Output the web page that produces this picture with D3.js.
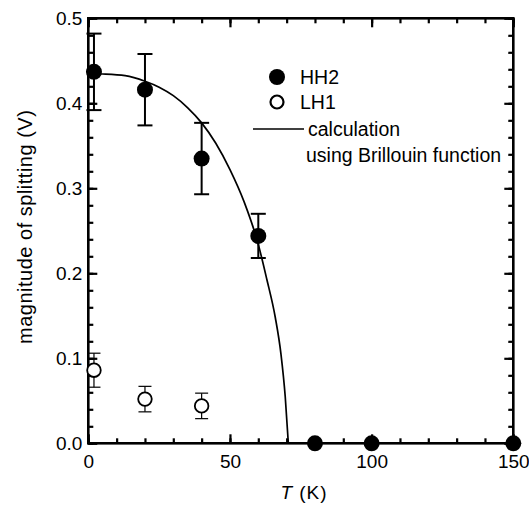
<!DOCTYPE html>
<html>
<head>
<meta charset="utf-8">
<script src="https://cdn.jsdelivr.net/npm/d3@7"></script>
<style>
  html, body { margin: 0; padding: 0; background: #fff; }
  text { font-family: "Liberation Sans", Arial, sans-serif; fill: #000; }
</style>
</head>
<body>
<div id="svg-container"></div>
<script>
// data
const hh2T = [2, 20, 40, 60, 80, 100, 150];
const hh2V = [0.437, 0.416, 0.335, 0.244, 0, 0, 0];
const hh2Err = [0.045, 0.042, 0.042, 0.026, 0, 0, 0];

const lh1T = [2, 20, 40];
const lh1V = [0.086, 0.052, 0.044];
const lh1Err = [0.020, 0.015, 0.015];

// calculation (Brillouin function), sampled from the drawn curve
const calcT = [0, 5, 13, 20, 25, 30, 35, 40, 45, 50, 55, 60, 63, 66, 68, 69.5, 70.6];
const calcV = [0.435, 0.4345, 0.4325, 0.426, 0.419, 0.409, 0.395, 0.377, 0.353, 0.322, 0.284, 0.234, 0.193, 0.148, 0.105, 0.055, 0];

const xTicks = [0, 50, 100, 150];
const yTicks = [0, 0.1, 0.2, 0.3, 0.4, 0.5];

// dimensions
const dim = {
    width: 529,
    height: 506,
    margin: { top: 18.3, right: 15.7, bottom: 62.7, left: 88.3 }
}
const w = dim.width - dim.margin.left - dim.margin.right;
const h = dim.height - dim.margin.top - dim.margin.bottom;

const svg = d3.select('#svg-container')
    .append('svg')
    .attr('width', dim.width)
    .attr('height', dim.height)
    .append('g')
        .attr('transform', `translate(${dim.margin.left}, ${dim.margin.top})`)

// scales
const xScale = d3.scaleLinear().domain([0, 150]).range([0, w]);
const yScale = d3.scaleLinear().domain([0, 0.5]).range([h, 0]);

const minorX = d3.range(0, 151, 10);
const minorY = d3.range(0, 0.5001, 0.02);

// axes, ticks pointing inward on all four sides
function styleAxis(g) {
    g.select('.domain').remove();
    g.selectAll('.tick line').attr('stroke', '#000').attr('stroke-width', 2.2);
    g.selectAll('.tick text')
        .attr('font-size', 19)
        .attr('font-family', '"Liberation Sans", Arial, sans-serif')
        .attr('fill', '#000');
}

const axes = [
    { ax: d3.axisBottom(xScale), t: `translate(0,${h})`, label: true, minor: minorX, x: true },
    { ax: d3.axisTop(xScale), t: 'translate(0,0)', label: false, minor: minorX, x: true },
    { ax: d3.axisLeft(yScale), t: 'translate(0,0)', label: true, minor: minorY, x: false },
    { ax: d3.axisRight(yScale), t: `translate(${w},0)`, label: false, minor: minorY, x: false }
];

axes.forEach(a => {
    // minor
    svg.append('g')
        .attr('transform', a.t)
        .call(a.ax.tickValues(a.minor).tickSize(-5).tickFormat(''))
        .call(styleAxis);
    // major
    const maj = a.x ? xTicks : yTicks;
    const fmt = a.x ? d3.format('d') : d3.format('.1f');
    svg.append('g')
        .attr('transform', a.t)
        .call(a.ax.tickValues(maj).tickSize(-9).tickPadding(a.x ? 11 : 6).tickFormat(a.label ? fmt : ''))
        .call(styleAxis);
});

// frame
svg.append('rect')
    .attr('x', 0).attr('y', 0)
    .attr('width', w).attr('height', h)
    .attr('fill', 'none')
    .attr('stroke', '#000')
    .attr('stroke-width', 2.6);

// axis titles
svg.append('text')
    .attr('x', 304 - dim.margin.left)
    .attr('y', h + 56)
    .attr('text-anchor', 'middle')
    .attr('font-size', 19)
    .attr('letter-spacing', 1)
    .html('<tspan font-style="italic">T</tspan> (K)');

svg.append('text')
    .attr('transform', `translate(${-56}, ${h / 2 - 4}) rotate(-90)`)
    .attr('text-anchor', 'middle')
    .attr('font-size', 20)
    .attr('letter-spacing', 0.5)
    .text('magnitude of splitting (V)');

// curve
const calc = calcT.map((t, i) => ({ t, v: calcV[i] }));
svg.append('path')
    .datum(calc)
    .attr('fill', 'none')
    .attr('stroke', '#000')
    .attr('stroke-width', 1.7)
    .attr('d', d3.line().x(d => xScale(d.t)).y(d => yScale(d.v)).curve(d3.curveMonotoneX));

// error bars
function errorBars(T, V, E, capW, sw) {
    const data = T.map((t, i) => ({ t, v: V[i], e: E[i] })).filter(d => d.e > 0);
    const g = svg.append('g').attr('stroke', '#000').attr('stroke-width', sw);
    g.selectAll('line.v').data(data).join('line')
        .attr('x1', d => xScale(d.t)).attr('x2', d => xScale(d.t))
        .attr('y1', d => yScale(d.v + d.e)).attr('y2', d => yScale(d.v - d.e));
    [1, -1].forEach(s => {
        g.selectAll(null).data(data).join('line')
            .attr('x1', d => xScale(d.t) - capW / 2).attr('x2', d => xScale(d.t) + capW / 2)
            .attr('y1', d => yScale(d.v + s * d.e)).attr('y2', d => yScale(d.v + s * d.e));
    });
}
errorBars(hh2T, hh2V, hh2Err, 15, 2);
errorBars(lh1T, lh1V, lh1Err, 13, 1.2);

// points
svg.append('g').selectAll('circle')
    .data(hh2T.map((t, i) => ({ t, v: hh2V[i] })))
    .join('circle')
    .attr('cx', d => xScale(d.t)).attr('cy', d => yScale(d.v))
    .attr('r', 8).attr('fill', '#000');

svg.append('g').selectAll('circle')
    .data(lh1T.map((t, i) => ({ t, v: lh1V[i] })))
    .join('circle')
    .attr('cx', d => xScale(d.t)).attr('cy', d => yScale(d.v))
    .attr('r', 6.8).attr('fill', '#fff').attr('stroke', '#000').attr('stroke-width', 1.8);

// legend
const leg = d3.select('svg').append('g');
leg.append('circle').attr('cx', 277).attr('cy', 77).attr('r', 8).attr('fill', '#000');
leg.append('circle').attr('cx', 277).attr('cy', 102).attr('r', 6.5).attr('fill', '#fff')
    .attr('stroke', '#000').attr('stroke-width', 2.2);
leg.append('line').attr('x1', 253).attr('x2', 304).attr('y1', 129).attr('y2', 129)
    .attr('stroke', '#000').attr('stroke-width', 1.7);
const legText = [['HH2', 300, 84], ['LH1', 300, 109], ['calculation', 308, 136], ['using Brillouin function', 306, 162]];
leg.selectAll('text').data(legText).join('text')
    .attr('x', d => d[1]).attr('y', d => d[2])
    .attr('font-size', 19.5)
    .text(d => d[0]);
</script>
</body>
</html>
